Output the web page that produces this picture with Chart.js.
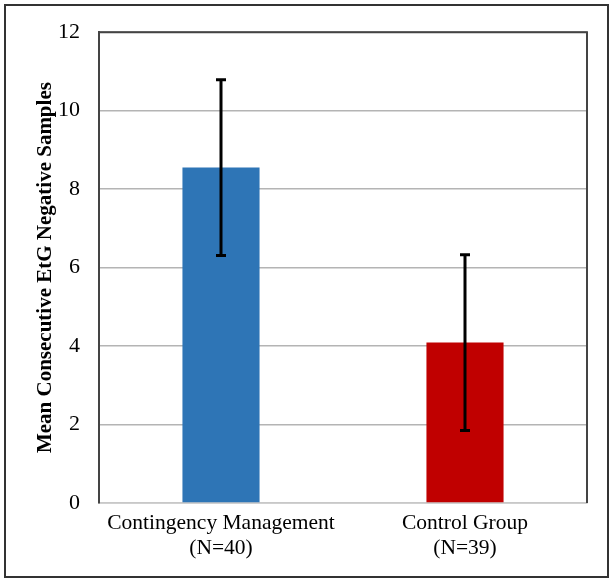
<!DOCTYPE html>
<html>
<head>
<meta charset="utf-8">
<script src="https://cdn.jsdelivr.net/npm/chart.js@4"></script>
<style>
  body { margin: 0; background: #fff; }
  #wrap { position: relative; width: 614px; height: 584px; }
</style>
</head>
<body>
<div id="wrap"><canvas id="myChart" width="614" height="584"></canvas></div>
<script>
// values
var groups = [['Contingency Management', '(N=40)'], ['Control Group', '(N=39)']];
var means = [8.55, 4.09];
var errs = [2.24, 2.24];
var barColors = ['#2E75B6', '#C00000'];
var yTicks = [0, 2, 4, 6, 8, 10, 12];

// outer frame, plot box and error bars
var extras = {
    id: 'extras',
    beforeDraw: function(chart) {
        var c = chart.ctx;
        c.save();
        c.fillStyle = '#fff';
        c.fillRect(0, 0, chart.width, chart.height);
        c.strokeStyle = '#333';
        c.lineWidth = 2;
        c.strokeRect(5, 5, 603, 572);
        c.restore();
    },
    afterDatasetsDraw: function(chart) {
        var c = chart.ctx;
        var a = chart.chartArea;
        var meta = chart.getDatasetMeta(0);
        var y = chart.scales.y;
        c.save();
        // top and right side of plot box
        c.strokeStyle = '#444';
        c.lineWidth = 2;
        c.beginPath();
        c.moveTo(a.left, a.top);
        c.lineTo(a.right, a.top);
        c.lineTo(a.right, a.bottom);
        c.stroke();
        // error bars
        c.strokeStyle = '#000';
        c.lineWidth = 3;
        for (var i = 0; i < means.length; i++) {
            var x = meta.data[i].x;
            var hi = y.getPixelForValue(means[i] + errs[i]);
            var lo = y.getPixelForValue(means[i] - errs[i]);
            c.beginPath();
            c.moveTo(x, hi);
            c.lineTo(x, lo);
            c.moveTo(x - 5, hi);
            c.lineTo(x + 5, hi);
            c.moveTo(x - 5, lo);
            c.lineTo(x + 5, lo);
            c.stroke();
        }
        c.restore();
    }
};

var ctx = document.getElementById('myChart').getContext('2d');
var myChart = new Chart(ctx, {
    type: 'bar',
    data: {
        labels: groups,
        datasets: [{
            data: means,
            backgroundColor: barColors,
            categoryPercentage: 1,
            barPercentage: 0.316
        }]
    },
    options: {
        responsive: false,
        animation: false,
        layout: { padding: { left: 0, top: 27, right: 27, bottom: 0 } },
        plugins: { legend: { display: false }, tooltip: { enabled: false } },
        scales: {
            x: {
                afterFit: function(s) { s.height = 81; },
                grid: { display: false, drawTicks: false },
                border: { color: '#c8c8c8', width: 1.5 },
                ticks: {
                    color: '#000',
                    padding: 8,
                    maxRotation: 0,
                    font: { family: 'Liberation Serif', size: 21.5, lineHeight: 1.17 }
                }
            },
            y: {
                min: 0,
                max: 12,
                afterFit: function(s) { s.width = 99; },
                afterBuildTicks: function(s) {
                    s.ticks = yTicks.map(function(v) { return { value: v }; });
                },
                grid: { color: '#b4b4b4', lineWidth: 1.5, drawTicks: false },
                border: { color: '#444', width: 2 },
                ticks: {
                    color: '#000',
                    padding: 19,
                    font: { family: 'Liberation Serif', size: 22 }
                },
                title: {
                    display: true,
                    text: 'Mean Consecutive EtG Negative Samples',
                    color: '#000',
                    padding: { top: 33, bottom: 0 },
                    font: { family: 'Liberation Serif', size: 21, weight: 'bold' }
                }
            }
        }
    },
    plugins: [extras]
});
</script>
</body>
</html>
